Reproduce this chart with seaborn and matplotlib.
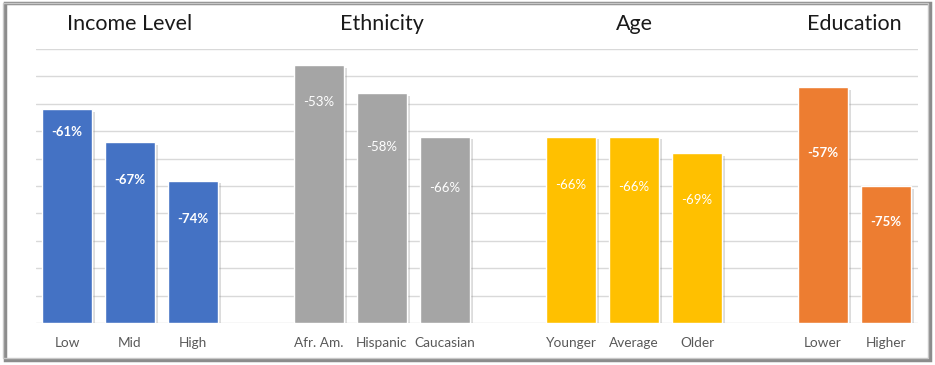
import matplotlib
matplotlib.use("Agg")
import matplotlib.pyplot as plt
import matplotlib.patheffects as pe
from matplotlib.patches import Rectangle
import seaborn as sns
import pandas as pd

# donnees (variation en %)
groups = ["Income Level", "Ethnicity", "Age", "Education"]
income_cats = ["Low", "Mid", "High"]
income_vals = [-61, -67, -74]
ethnicity_cats = ["Afr. Am.", "Hispanic", "Caucasian"]
ethnicity_vals = [-53, -58, -66]
age_cats = ["Younger", "Average", "Older"]
age_vals = [-66, -66, -69]
education_cats = ["Lower", "Higher"]
education_vals = [-57, -75]

colors = {"Income Level": "#4472C4", "Ethnicity": "#A5A5A5",
          "Age": "#FFC000", "Education": "#ED7D31"}
# decalage des etiquettes sous le haut de la barre (points)
label_drop = [16, 27, 28, 26, 39, 37, 35, 36, 34, 47, 26]
bold_groups = ["Income Level", "Education"]

rows = []
for g, cats, vals in zip(groups,
                         [income_cats, ethnicity_cats, age_cats, education_cats],
                         [income_vals, ethnicity_vals, age_vals, education_vals]):
    for c, v in zip(cats, vals):
        rows.append({"group": g, "cat": c, "pct": v, "height": 100 + v})
df = pd.DataFrame(rows)

# ordre des categories avec des emplacements vides entre les groupes
order = (income_cats + [" "] + ethnicity_cats + ["  "] + age_cats + ["   "]
         + education_cats)

sns.set_style("white")
plt.rcParams["font.family"] = ["Lato", "DejaVu Sans"]

fig = plt.figure(figsize=(9.35, 3.65), dpi=100)
ax = fig.add_axes([35.5 / 935, 42 / 365, 882 / 935, 274 / 365])

sns.barplot(data=df, x="cat", y="height", hue="group", palette=colors,
            order=order, dodge=False, width=0.79, legend=False, ax=ax,
            saturation=1, zorder=3)

for p in ax.patches:
    p.set_path_effects([pe.SimplePatchShadow(offset=(2.5, -2), shadow_rgbFace="#8c8c8c", alpha=0.3),
                        pe.Normal()])

ax.set_ylim(0, 50)
ax.set_xlim(-0.5, len(order) - 0.5)
ax.set_yticks(range(0, 51, 5))
ax.set_yticklabels([])
ax.grid(axis="y", color="#D9D9D9", lw=1, zorder=0)
ax.set_axisbelow(True)
for s in ax.spines.values():
    s.set_visible(False)
ax.tick_params(axis="x", length=0, pad=10, labelsize=9.8, labelcolor="#595959")
ax.tick_params(axis="y", length=0)
ax.set_xlabel("")
ax.set_ylabel("")

for i, r in df.iterrows():
    x = order.index(r["cat"])
    ax.annotate(f"{r['pct']}%", (x, r["height"]), xytext=(0, -label_drop[i]),
                textcoords="offset points", ha="center", va="center",
                color="white", fontsize=9.5,
                fontweight="bold" if r["group"] in bold_groups else "normal",
                zorder=5)

# titres des groupes
for g in groups:
    xs = [order.index(c) for c in df.loc[df["group"] == g, "cat"]]
    xc = sum(xs) / len(xs)
    xf = fig.transFigure.inverted().transform(ax.transData.transform((xc, 0)))[0]
    fig.text(xf, 1 - 24 / 365, g, ha="center", va="center", fontsize=15.5, color="#1a1a1a")

# cadre avec ombre
fig.patches.append(Rectangle((5 / 935, 5 / 365), 925 / 935, 357 / 365, transform=fig.transFigure,
                             fill=False, ec="#8c8c8c", lw=2.5, zorder=0))
fig.patches.append(Rectangle((3 / 935, 7 / 365), 925 / 935, 355 / 365, transform=fig.transFigure,
                             fill=False, ec="#c8c8c8", lw=1, zorder=1))

fig.savefig("out.png", dpi=100)
